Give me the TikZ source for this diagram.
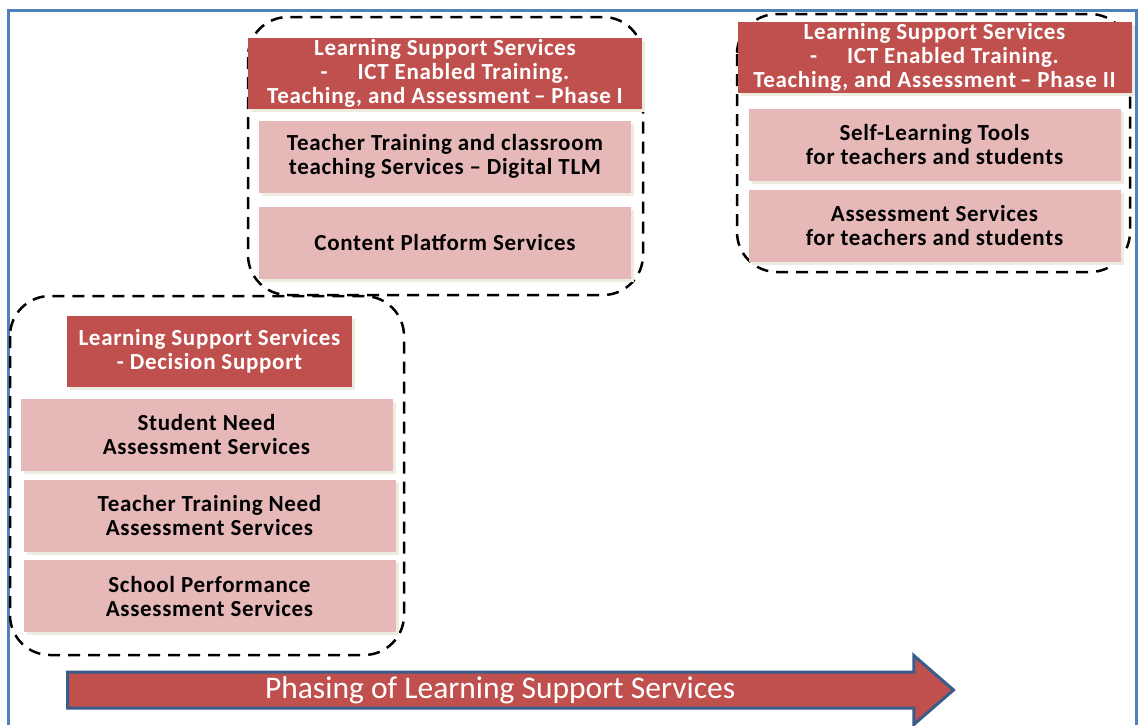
\documentclass[tikz,border=0pt]{standalone}
\usepackage{fontspec}
\setmainfont{Carlito}
\newfontfamily\boxfont[LetterSpace=3]{Carlito}
\usetikzlibrary{positioning,shapes.arrows,shadows}
\definecolor{headred}{HTML}{C0504D}
\definecolor{servpink}{HTML}{E6B9B8}
\definecolor{shadebeige}{HTML}{EEECE1}
\definecolor{frameblue}{HTML}{4F81BD}
\definecolor{arrowblue}{HTML}{385D8A}
\begin{document}
\begin{tikzpicture}[x=0.5pt,y=-0.5pt,
    boxshade/.style={drop shadow={shadow xshift=1.5pt,shadow yshift=-1.5pt,fill=shadebeige,opacity=1}},
    header/.style={boxshade,fill=headred,text=white,align=center,inner sep=0pt,
        font=\boxfont\fontsize{11.5}{12}\selectfont\bfseries,minimum width=197pt,minimum height=35.5pt},
    service/.style={boxshade,fill=servpink,text=black,align=center,inner sep=0pt,
        font=\boxfont\fontsize{11.5}{12}\selectfont\bfseries,minimum width=186pt,minimum height=36pt},
    group/.style={draw=black,line width=1.25pt,dash pattern=on 6pt off 4pt,rounded corners=20pt}]
    \useasboundingbox (0,0) rectangle (1139,725);
    % Frame
    \draw[frameblue,line width=1.5pt] (8,725) -- (8,10) -- (1136,10) -- (1136,725);
    % Groups
    \draw[group] (248,17) rectangle (643,295);
    \draw[group] (737,14) rectangle (1130,272);
    \draw[group] (10,296) rectangle (404,655);
    % Phase I
    \node[header] (hphaseone) at (445,73.5) {Learning Support Services\\
        -\hspace{1.3em}ICT Enabled Training.\\Teaching, and Assessment\,– Phase I};
    \node[service,below=5.5pt of hphaseone] (tlm) {Teacher Training and classroom\\
        teaching Services – Digital TLM};
    \node[service,below=6.5pt of tlm] (content) {Content Platform Services};
    % Phase II
    \node[header] (hphasetwo) at (934.5,57.5) {Learning Support Services\\
        -\hspace{1.3em}ICT Enabled Training.\\Teaching, and Assessment\,– Phase II};
    \node[service,below=7.5pt of hphasetwo] (selflearn) {Self-Learning Tools\\for teachers and students};
    \node[service,below=4pt of selflearn] (assess) {Assessment Services\\for teachers and students};
    % Decision support
    \node[header,minimum width=142.5pt] (hdecision) at (209.5,351.5) {Learning Support Services\\- Decision Support};
    \node[service,below=5.5pt of hdecision,xshift=-1.5pt] (studneed) {Student Need\\Assessment Services};
    \node[service,below=4pt of studneed,xshift=1.5pt] (teachneed) {Teacher Training Need\\Assessment Services};
    \node[service,below=4pt of teachneed] (school) {School Performance\\Assessment Services};
    % Phasing arrow
    \node[single arrow,fill=headred,draw=arrowblue,line width=1.5pt,text=white,
        font=\fontsize{15.75}{18}\selectfont,single arrow head extend=8.25pt,
        single arrow tip angle=82,minimum height=443pt,text height=11pt,text depth=3pt,
        inner ysep=1.25pt,anchor=tail] (phasing) at (66,690) {Phasing of Learning Support Services};
\end{tikzpicture}
\end{document}
